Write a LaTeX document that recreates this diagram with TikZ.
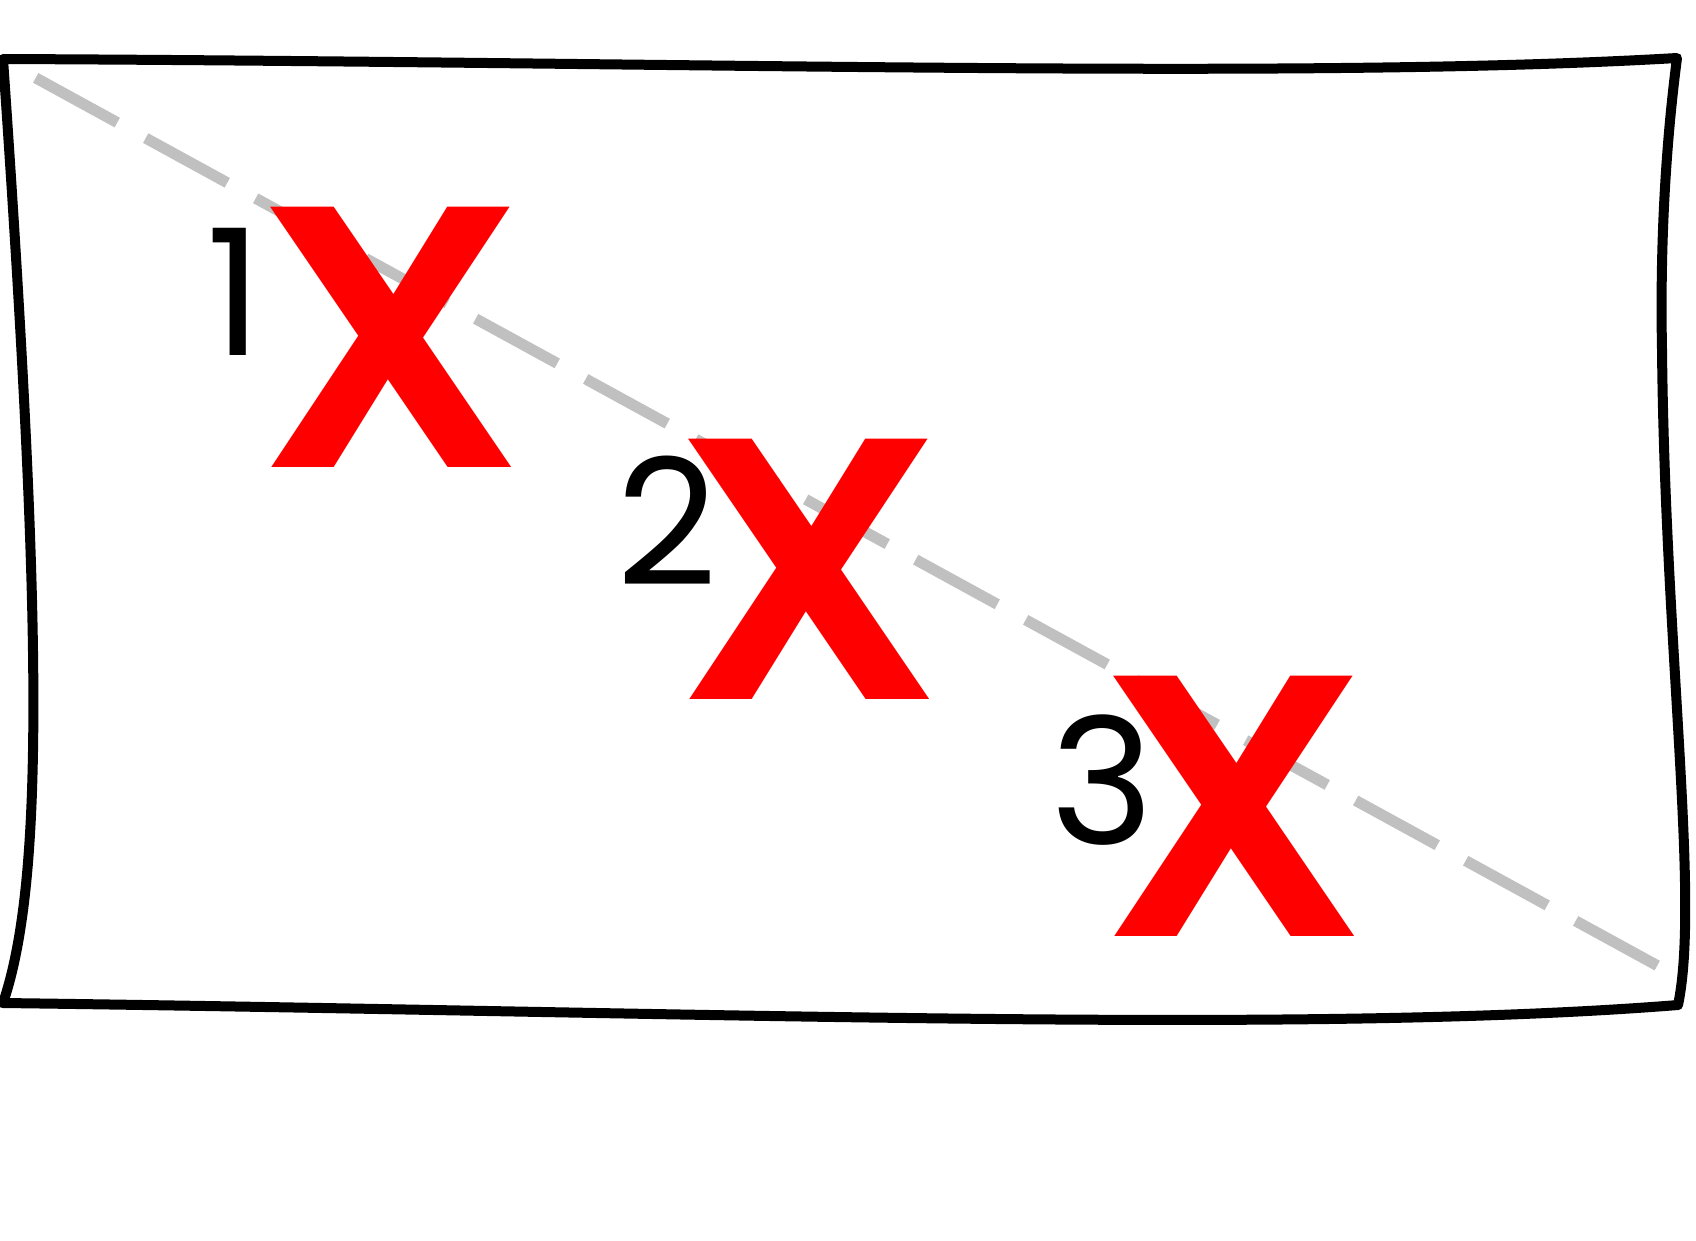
\documentclass[tikz,border=0pt]{standalone}
\usepackage{fontspec}
\newfontfamily\pop{Poppins}
\newfontfamily\popsb{Poppins SemiBold}
\definecolor{dashgray}{HTML}{C0C0C0}
\begin{document}
\begin{tikzpicture}[x=1pt,y=-1pt,
  frame/.style={draw=black,line width=10pt,line join=round,line cap=round},
  guide/.style={draw=dashgray,line width=11pt,dash pattern=on 93pt off 32.4pt},
  bigx/.style={text=red,inner sep=0pt,anchor=base,xscale=1.06,transform shape,font=\popsb\fontsize{373}{373}\selectfont},
  num/.style={text=black,inner sep=0pt,anchor=base,font=\pop\fontsize{176}{176}\selectfont}]
\useasboundingbox (0,0) rectangle (1696,1241);
% frame
\draw[frame] (3,59) .. controls (700,62) and (1300,80) .. (1677,58)
  .. controls (1665,150) and (1660,250) .. (1662,350)
  .. controls (1665,650) and (1700,900) .. (1678,1005)
  .. controls (1300,1035) and (700,1012) .. (3,1003)
  .. controls (45,880) and (42,620) .. cycle;
% guide line
\coordinate (gs) at (35.7,77.9);
\coordinate (ge) at (1658,966);
\draw[guide] (gs) -- (ge);
% marks
\node[bigx] (x1) at (391.5,467.3) {X};
\node[bigx] (x2) at (809,699.8) {X};
\node[bigx] (x3) at (1233.6,936.7) {X};
\node[num] (n1) at (235,355.9) {1};
\node[num] (n2) at (667.3,585.2) {2};
\node[num] (n3) at (1102.5,844.8) {3};
\end{tikzpicture}
\end{document}
